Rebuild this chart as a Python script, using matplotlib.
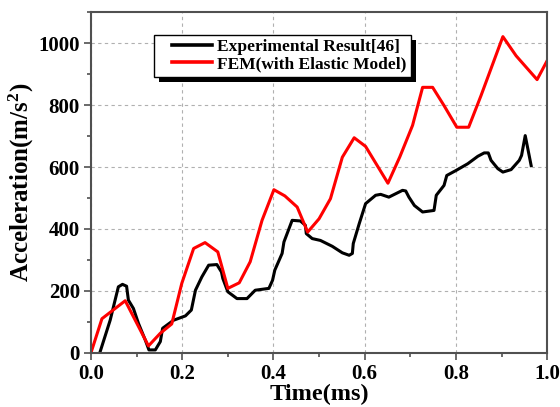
import matplotlib
matplotlib.use("Agg")
import matplotlib.pyplot as plt
from matplotlib.patches import Rectangle
from matplotlib.transforms import IdentityTransform
from matplotlib.ticker import MultipleLocator

exp_t = [0.020, 0.042, 0.060, 0.069, 0.078, 0.082, 0.093, 0.104, 0.119, 0.127,
         0.141, 0.152, 0.157, 0.181, 0.207, 0.220, 0.229, 0.243, 0.258, 0.276,
         0.286, 0.289, 0.300, 0.320, 0.342, 0.360, 0.390, 0.398, 0.403, 0.419,
         0.423, 0.441, 0.459, 0.470, 0.472, 0.485, 0.503, 0.529, 0.551, 0.566,
         0.573, 0.575, 0.588, 0.602, 0.624, 0.635, 0.653, 0.683, 0.690, 0.697,
         0.709, 0.727, 0.752, 0.757, 0.774, 0.780, 0.800, 0.826, 0.848, 0.862,
         0.871, 0.877, 0.892, 0.903, 0.921, 0.939, 0.944, 0.952, 0.965]
exp_a = [3, 105, 213, 221, 215, 170, 143, 95, 41, 9,
         9, 36, 79, 105, 119, 138, 202, 245, 283, 285,
         261, 240, 197, 175, 175, 202, 208, 234, 267, 321,
         358, 428, 426, 412, 385, 369, 363, 344, 323, 315,
         321, 353, 417, 482, 509, 512, 503, 525, 523, 503,
         476, 455, 460, 509, 541, 573, 589, 611, 635, 646,
         646, 622, 595, 584, 592, 622, 638, 702, 605]

fem_t = [0.000, 0.024, 0.075, 0.126, 0.152, 0.177, 0.199, 0.225, 0.250, 0.278,
         0.300, 0.325, 0.349, 0.375, 0.401, 0.425, 0.452, 0.475, 0.500, 0.525,
         0.551, 0.577, 0.602, 0.651, 0.677, 0.705, 0.727, 0.749, 0.774, 0.802,
         0.828, 0.855, 0.903, 0.932, 0.978, 1.000]
fem_a = [0, 110, 168, 22, 63, 93, 224, 337, 356, 326,
         208, 226, 294, 428, 527, 507, 471, 390, 433, 498,
         632, 695, 667, 548, 633, 735, 858, 858, 799, 729,
         729, 831, 1022, 960, 883, 944]

labels = ["Experimental Result[46]", "FEM(with Elastic Model)"]
xticks = [0.0, 0.2, 0.4, 0.6, 0.8, 1.0]
xticklabels = ["0.0", "0.2", "0.4", "0.6", "0.8", "1.0"]
yticks = [0, 200, 400, 600, 800, 1000]

plt.rcParams['font.family'] = ['Liberation Serif', 'DejaVu Serif']
plt.rcParams['font.weight'] = 'bold'
plt.rcParams['mathtext.fontset'] = 'custom'
plt.rcParams['mathtext.rm'] = 'Liberation Serif:bold'
plt.rcParams['mathtext.default'] = 'rm'

fig = plt.figure(figsize=(5.6, 4.07), dpi=100)
ax = fig.add_axes([0.1625, 0.1334, 0.8145, 0.8359])

ax.plot(exp_t, exp_a, color='black', lw=2.2, label=labels[0])
ax.plot(fem_t, fem_a, color='#ff0000', lw=2.2, label=labels[1])

ax.set_xlim(0, 1.0)
ax.set_ylim(0, 1100)
ax.xaxis.set_minor_locator(MultipleLocator(0.1))
ax.yaxis.set_minor_locator(MultipleLocator(100))
ax.set_xticks(xticks)
ax.set_xticklabels(xticklabels)
ax.set_yticks(yticks)

ax.grid(True, which='major', color='#b0b0b0', linestyle=(0, (3, 3)), lw=0.8)
ax.set_axisbelow(True)

for s in ax.spines.values():
    s.set_color('#505050')
    s.set_linewidth(1.5)

ax.tick_params(which='major', direction='out', length=5, width=1.2, color='#505050',
               labelsize=15, pad=3)
ax.tick_params(which='minor', direction='out', length=3, width=1.2, color='#505050')
for lab in ax.get_xticklabels() + ax.get_yticklabels():
    lab.set_fontweight('bold')

ax.set_xlabel("Time(ms)", fontsize=17.5, fontweight='bold', labelpad=0)
ax.set_ylabel("Acceleration(m/s$^{2}$)", fontsize=18, fontweight='bold', labelpad=2)

leg = ax.legend(loc='upper left', bbox_to_anchor=(0.138, 0.934), borderaxespad=0,
                frameon=True, fancybox=False, prop={'size': 12.5, 'weight': 'bold'},
                handlelength=3.1, handletextpad=0.3, borderpad=0.25, labelspacing=0.05)
leg.get_frame().set_edgecolor('black')
leg.get_frame().set_linewidth(1.0)
leg.get_frame().set_facecolor('white')
leg.get_frame().set_alpha(1.0)
for h in leg.get_lines():
    h.set_linewidth(2.6)
    xd = list(h.get_xdata())
    x0, x1 = xd[0], xd[-1]
    h.set_xdata([x0 + 0.26 * (x1 - x0), x1])
    h.set_ydata([h.get_ydata()[0], h.get_ydata()[-1]])
leg.set_zorder(6)

fig.canvas.draw()
bb = leg.get_window_extent()
off = 5
shadow = Rectangle((bb.x0 + off, bb.y0 - off), bb.width, bb.height,
                   transform=IdentityTransform(), facecolor='black',
                   edgecolor='none', zorder=5.5, clip_on=False)
ax.add_artist(shadow)

fig.savefig("out.png", dpi=100)
